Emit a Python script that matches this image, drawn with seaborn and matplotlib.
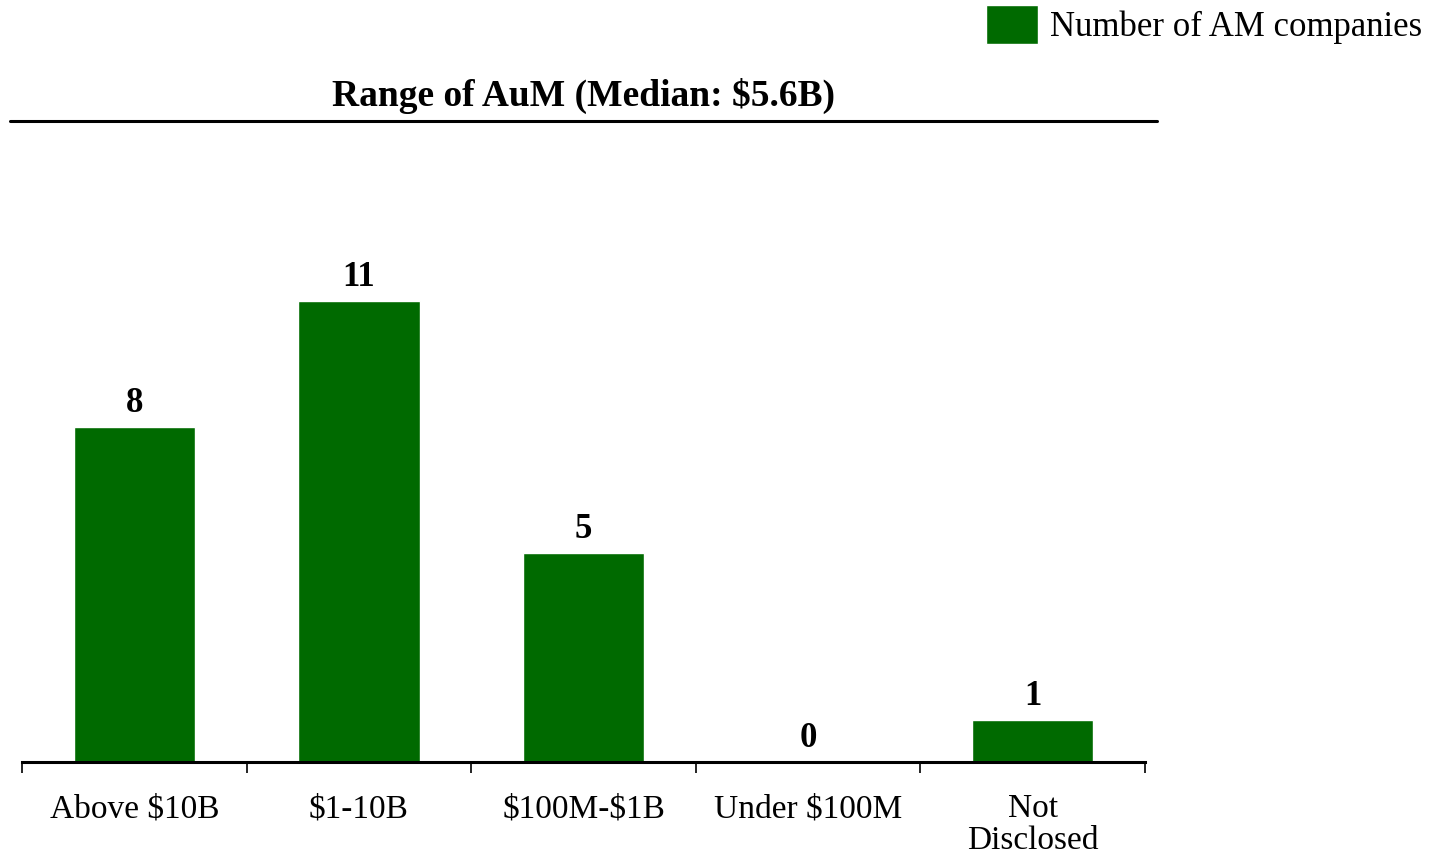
import pandas as pd
import matplotlib.pyplot as plt
import seaborn as sns

# Chart data
categories = ["Above $10B", "$1-10B", "$100M-$1B", "Under $100M", "Not\nDisclosed"]
counts = [8, 11, 5, 0, 1]
series_name = "Number of AM companies"
title = "Range of AuM (Median: $5.6B)"

df = pd.DataFrame({"Range": categories, "Count": counts})

sns.set_style("white")
plt.rcParams["font.family"] = ["Liberation Serif", "DejaVu Serif"]
plt.rcParams["text.parse_math"] = False  # keep "$" literal
plt.rcParams["text.color"] = "black"
plt.rcParams["xtick.color"] = "black"

green = "#006a00"

fig = plt.figure(figsize=(14.41, 8.57), dpi=100)
# axes in pixels: x 22..1145, y 121..762 (from top)
W, H = 1441, 857
ax = fig.add_axes([22 / W, (H - 762) / H, (1145 - 22) / W, (762 - 121) / H])

sns.barplot(data=df, x="Range", y="Count", color=green, width=0.54,
            saturation=1, label=series_name, ax=ax)

ax.set_xlim(-0.5, len(categories) - 0.5)
ax.set_ylim(0, 15.3)

# value labels on top of bars
ax.bar_label(ax.containers[0], labels=[str(c) for c in counts],
             fontsize=25, fontweight="bold", padding=5)

# spines / ticks
for side in ["top", "right", "left"]:
    ax.spines[side].set_visible(False)
ax.spines["bottom"].set_linewidth(2.2)
ax.spines["bottom"].set_color("black")
ax.set_yticks([])
ax.set_xlabel("")
ax.set_ylabel("")
ax.set_xticks(range(len(categories)))
ax.set_xticklabels(categories, fontsize=24, linespacing=1.05)
ax.set_xticks([i - 0.5 for i in range(len(categories) + 1)], minor=True)
ax.tick_params(axis="x", which="major", length=0, pad=23)
ax.tick_params(axis="x", which="minor", length=8, width=1.2, color="black",
               bottom=True, direction="out")

# title with underline
ax.text(0.5, 1 + 25 / 641, title, transform=ax.transAxes, ha="center",
        va="center", fontsize=27, fontweight="bold")
ax.plot([(10 - 22) / 1123, (1157 - 22) / 1123], [1, 1], transform=ax.transAxes,
        color="black", lw=2.2, clip_on=False)

# legend at top-right
handles, labels = ax.get_legend_handles_labels()
leg = ax.get_legend()
if leg is not None:
    leg.remove()
fig.legend(handles, labels, loc="upper right", bbox_to_anchor=(1436 / W, 1 + 9 / H),
           frameon=False, fontsize=25, handlelength=1.5, handleheight=1.35,
           handletextpad=0.35, borderaxespad=0)

fig.savefig("out.png", dpi=100)
